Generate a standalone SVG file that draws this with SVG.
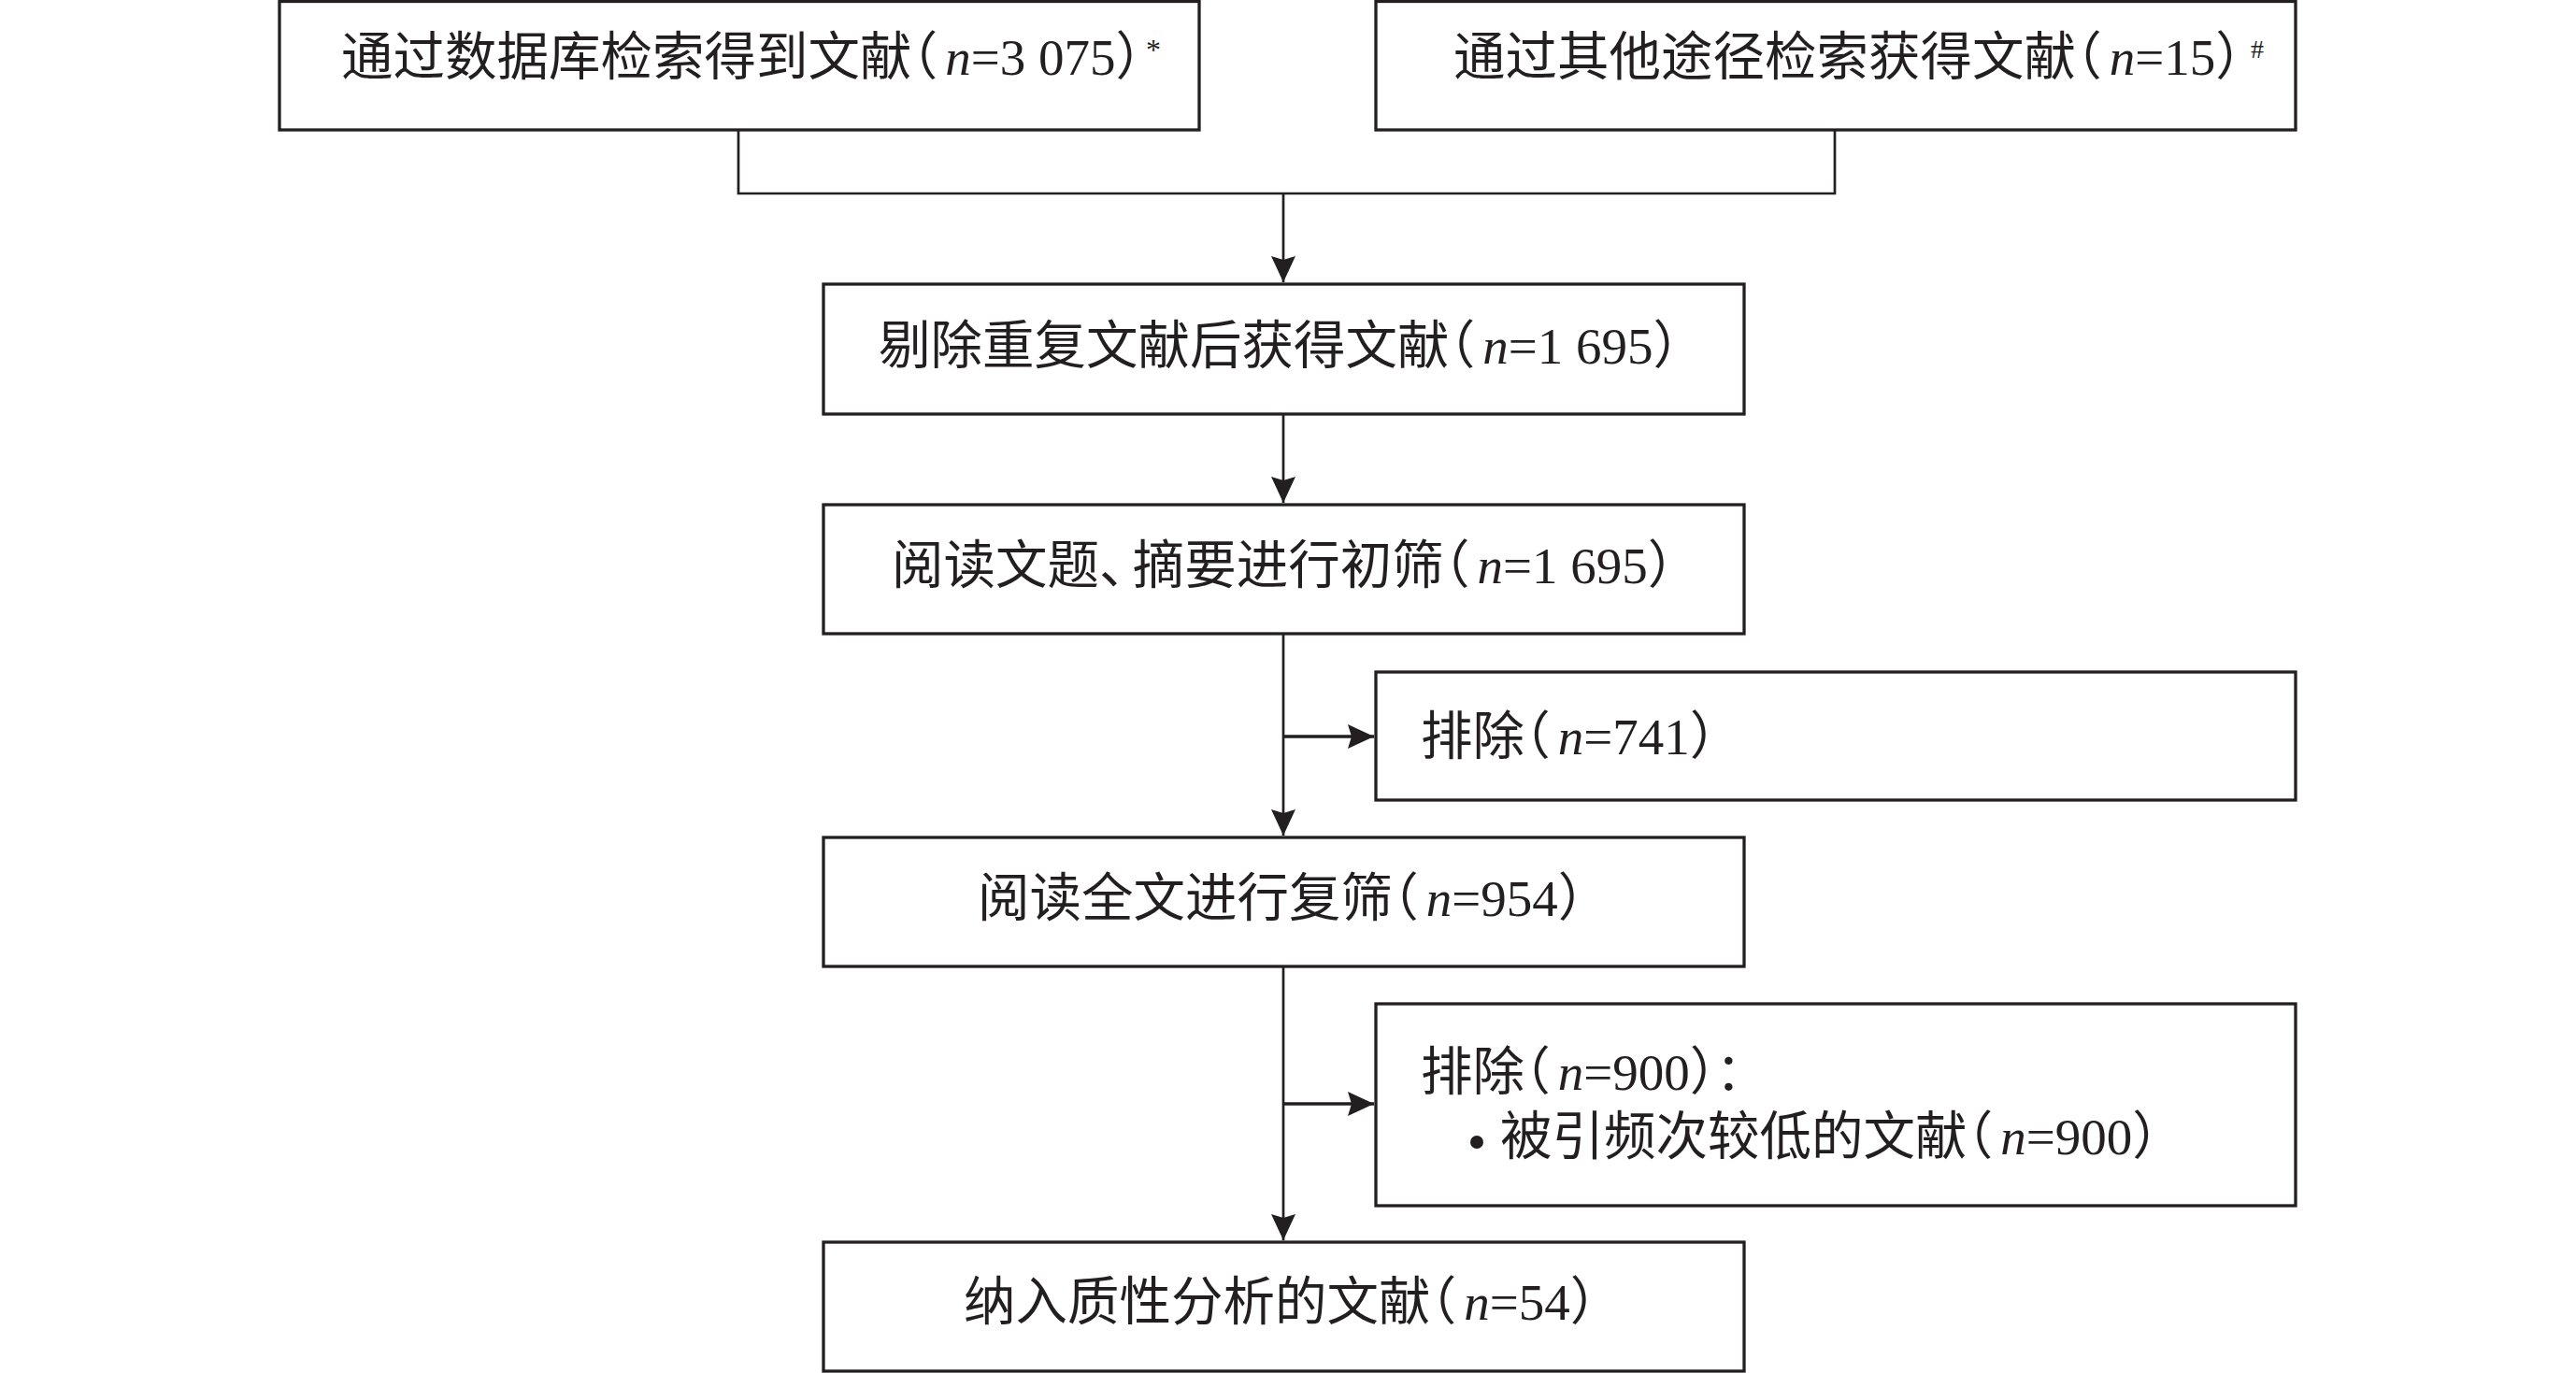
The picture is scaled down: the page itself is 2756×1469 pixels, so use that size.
<svg xmlns="http://www.w3.org/2000/svg" width="2756" height="1469" viewBox="0 0 2756 1469">
<style>
.box{fill:#ffffff;stroke:#231f20;stroke-width:3.3}
.con{fill:none;stroke:#231f20;stroke-width:2.7}
.side{fill:none;stroke:#231f20;stroke-width:3.3}
.t{fill:#231f20;font-size:55.5px;font-family:"Noto Sans CJK SC","Noto Sans CJK JP",sans-serif;font-weight:400}
.p{font-feature-settings:"halt" 1}
.l{font-family:"Liberation Serif","Times New Roman",serif;font-size:55px;font-weight:400}
.i{font-style:italic}
.sup{font-family:"Liberation Serif","Times New Roman",serif;font-weight:400}
</style>
<defs>
<marker id="ah" markerUnits="userSpaceOnUse" markerWidth="30" markerHeight="26" refX="28" refY="13" orient="auto">
<path d="M0,0 L28,13 L0,26 L4,13 Z" fill="#231f20"/>
</marker>
</defs>
<rect x="0" y="0" width="2756" height="1469" fill="#ffffff"/>
<g id="connectors">
<path class="con" d="M790,140 V207 H1963 V140"/>
<path class="con" d="M1373,207 V302" marker-end="url(#ah)"/>
<path class="con" d="M1373,443 V538" marker-end="url(#ah)"/>
<path class="con" d="M1373,678 V894" marker-end="url(#ah)"/>
<path class="side" d="M1373,788 H1470" marker-end="url(#ah)"/>
<path class="con" d="M1373,1034 V1327" marker-end="url(#ah)"/>
<path class="side" d="M1373,1181 H1470" marker-end="url(#ah)"/>
</g>
<g id="node-db">
<rect class="box" x="299" y="1.5" width="984" height="137.5"/>
<text class="t" x="365" y="80">通过数据库检索得到文献<tspan class="p">（</tspan><tspan class="l i" dx="8">n</tspan><tspan class="l">=3 075</tspan><tspan class="p">）</tspan><tspan class="sup" x="1226" y="64" font-size="32">*</tspan></text>
</g>
<g id="node-other">
<rect class="box" x="1472" y="1.5" width="984" height="137.5"/>
<text class="t" x="1555" y="80">通过其他途径检索获得文献<tspan class="p">（</tspan><tspan class="l i" dx="8">n</tspan><tspan class="l">=15</tspan><tspan class="p">）</tspan><tspan class="sup" x="2408" y="62" font-size="28">#</tspan></text>
</g>
<g id="node-dedup">
<rect class="box" x="881" y="304" width="985" height="139"/>
<text class="t" x="940" y="389">剔除重复文献后获得文献<tspan class="p">（</tspan><tspan class="l i" dx="8">n</tspan><tspan class="l">=1 695</tspan><tspan class="p">）</tspan></text>
</g>
<g id="node-screen1">
<rect class="box" x="881" y="540" width="985" height="138"/>
<text class="t" x="954" y="624">阅读文题<tspan class="p">、</tspan><tspan dx="8">摘要进行初筛</tspan><tspan class="p">（</tspan><tspan class="l i" dx="8">n</tspan><tspan class="l">=1 695</tspan><tspan class="p">）</tspan></text>
</g>
<g id="node-excl1">
<rect class="box" x="1472" y="719" width="984" height="137"/>
<text class="t" x="1520" y="807">排除<tspan class="p">（</tspan><tspan class="l i" dx="8">n</tspan><tspan class="l">=741</tspan><tspan class="p">）</tspan></text>
</g>
<g id="node-screen2">
<rect class="box" x="881" y="896" width="985" height="138"/>
<text class="t" x="1046" y="980">阅读全文进行复筛<tspan class="p">（</tspan><tspan class="l i" dx="8">n</tspan><tspan class="l">=954</tspan><tspan class="p">）</tspan></text>
</g>
<g id="node-excl2">
<rect class="box" x="1472" y="1074" width="984" height="216"/>
<circle cx="1580" cy="1222" r="7" fill="#231f20"/>
<text class="t" x="1520" y="1166">排除<tspan class="p">（</tspan><tspan class="l i" dx="8">n</tspan><tspan class="l">=900</tspan><tspan class="p">）</tspan>：<tspan x="1605" y="1235">被引频次较低的文献</tspan><tspan class="p">（</tspan><tspan class="l i" dx="8">n</tspan><tspan class="l">=900</tspan><tspan class="p">）</tspan></text>
</g>
<g id="node-included">
<rect class="box" x="881" y="1329" width="985" height="138"/>
<text class="t" x="1031" y="1412">纳入质性分析的文献<tspan class="p">（</tspan><tspan class="l i" dx="8">n</tspan><tspan class="l">=54</tspan><tspan class="p">）</tspan></text>
</g>
</svg>
